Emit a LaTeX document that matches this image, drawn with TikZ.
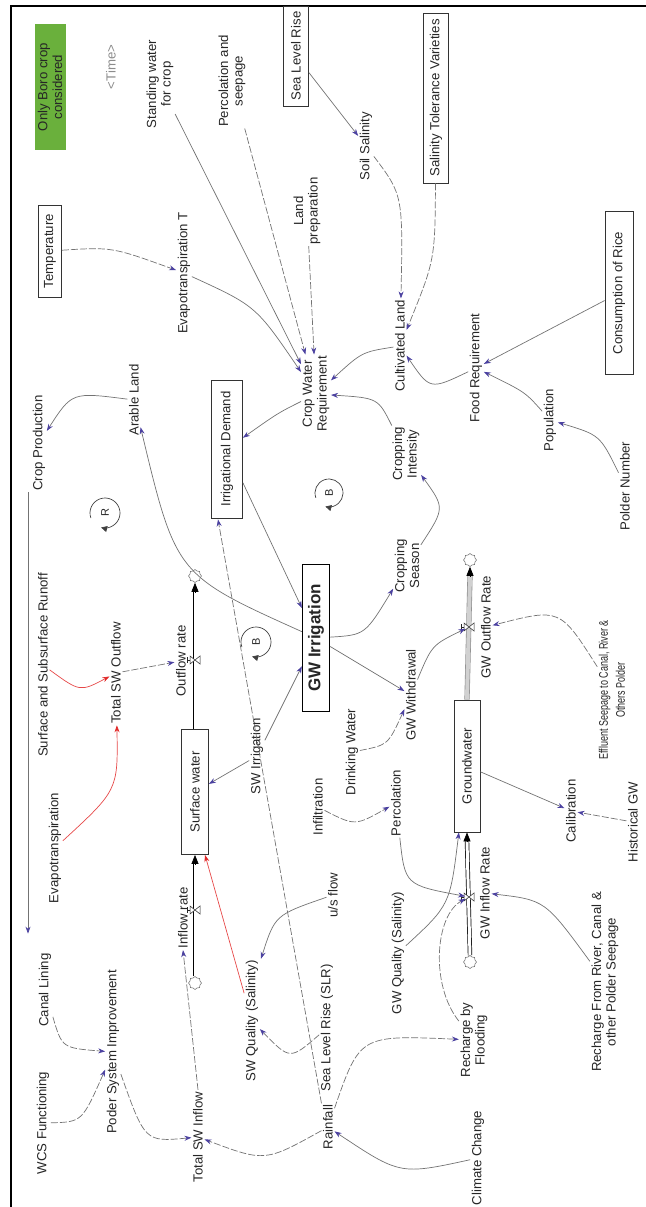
\documentclass[tikz,border=0pt]{standalone}
\usepackage{fontspec}
\setmainfont{Liberation Sans}
\usetikzlibrary{arrows.meta,shapes.symbols,calc}
\definecolor{ahead}{RGB}{75,65,160}
\definecolor{vgreen}{RGB}{106,176,60}
\definecolor{vred}{RGB}{225,40,40}
\begin{document}
\begin{tikzpicture}[x=1pt,y=-1pt,
 lab/.style={rotate=90, font=\fontsize{13.2}{14.6}\selectfont, align=center, inner sep=1.5pt, text=black!85},
 vbox/.style={lab, draw=black!80, line width=0.8pt, inner sep=2pt},
 lvl/.style={lab, draw=black!80, line width=0.8pt, fill=white},
 conn/.style={draw=black!55, line width=0.7pt, -{Stealth[length=7pt,width=5pt,color=ahead]}},
 dsh/.style={dash pattern=on 7pt off 2pt},
 redc/.style={draw=vred!85, line width=0.7pt, -{Stealth[length=7pt,width=5pt,color=vred]}},
 pipe/.style={draw=black, line width=0.7pt, double=white, double distance=3pt},
 gpipe/.style={draw=black!45, line width=0.6pt, double=black!18, double distance=4pt},
 ptip/.style={-{Triangle[length=9pt,width=7pt]}, line width=0.7pt, black},
 cloudn/.style={cloud, cloud puffs=8, aspect=1, draw=black!60, line width=0.5pt, minimum width=13pt, minimum height=13pt, inner sep=0pt},
 loopc/.style={draw=black!75, line width=0.7pt, -{Triangle[length=6pt,width=6pt]}},
 valvepic/.pic={\draw[black!85,line width=0.5pt,fill=white] (-5,-4) -- (5,4) -- (5,-4) -- (-5,4) -- cycle;
   \draw[black!85,line width=0.5pt] (-5,0) -- (-8,0) (-8,-3) -- (-8,3);}
]
\useasboundingbox (0,0) rectangle (645,1207);
\draw[line width=1.5pt] (11,1215) -- (11,6) -- (650,6);

% ---------- nodes ----------
\node[lab, fill=vgreen, minimum width=125pt, minimum height=31pt] (note) at (50,87) {Only Boro crop\\considered};
\node[lab, text=black!45] (time) at (111,67) {<Time>};
\node[lab] (standing) at (160,84) {Standing water\\for crop};
\node[lab] (percs) at (232,81) {Percolation and\\seepage};
\node[vbox, minimum width=100pt, minimum height=25pt] (slrbox) at (296,56) {Sea Level Rise};
\node[lab] (soilsal) at (366,146) {Soil Salinity};
\node[vbox, minimum width=170pt, minimum height=25pt] (stv) at (436,98) {Salinity Tolerance Varieties};
\node[lab] (landprep) at (307,211) {Land\\preparation};
\node[vbox, minimum width=92pt, minimum height=23pt] (temp) at (50,251) {Temperature};
\node[lab] (evapT) at (184,273) {Evapotranspiration T};
\node[vbox, minimum width=163pt, minimum height=28pt] (consrice) at (619,293) {Consumption of Rice};
\node[lab] (cwr) at (316,394) {Crop Water\\Requirement};
\node[lab] (cultland) at (400,346) {Cultivated Land};
\node[lab] (foodreq) at (476,368) {Food Requirement};
\node[lab] (pop) at (550,420) {Population};
\node[lab] (polder) at (625,486) {Polder Number};
\node[lab] (cropprod) at (39,443) {Crop Production};
\node[lab] (arable) at (134,400) {Arable Land};
\node[vbox, minimum width=138pt, minimum height=31pt] (irrdem) at (227,449) {Irrigational Demand};
\node[lab] (cropint) at (406,454) {Cropping\\Intensity};
\node[lab] (cropseason) at (407,566) {Cropping\\Season};
\node[lab] (sasr) at (43,665) {Surface and Subsurface Runoff};
\node[lab] (totswout) at (116,673) {Total SW Outflow};
\node[lab] (outrate) at (181,661) {Outflow rate};
\node[lab, draw=black, line width=1.3pt, minimum width=147pt, minimum height=27pt, font=\bfseries\fontsize{17}{18}\selectfont] (gwirr) at (316,638) {GW Irrigation};
\node[lab] (gwwd) at (411,695) {GW Withdrawal};
\node[lab] (gwoutrate) at (486,627) {GW Outflow Rate};
\node[lab, xscale=0.72, font=\fontsize{12.5}{17}\selectfont] (effluent) at (612,690) {Effluent Seepage to Canal, River \&\\Others Polder};
\node[lab] (drink) at (352,752) {Drinking Water};
\node[lab] (swirr) at (257,756) {SW Irrigation};
\node[lvl, minimum width=125pt, minimum height=27pt] (sw) at (195,792) {Surface water};
\node[lvl, minimum width=132pt, minimum height=26pt] (gw) at (467,766) {Groundwater};
\node[lab] (infil) at (318,807) {Infiltration};
\node[lab] (perc) at (396,803) {Percolation};
\node[lab] (calib) at (571,811) {Calibration};
\node[lab] (hist) at (633,822) {Historical GW};
\node[lab] (evap) at (55,848) {Evapotranspiration};
\node[lab] (canal) at (45,990) {Canal Lining};
\node[lab] (psi) at (113,1052) {Poder System Improvement};
\node[lab] (wcs) at (43,1123) {WCS Functioning};
\node[lab] (totswin) at (198,1137) {Total SW Inflow};
\node[lab] (inrate) at (183,918) {Inflow rate};
\node[lab] (swq) at (252,1021) {SW Quality (Salinity)};
\node[lab] (usflow) at (333,895) {u/s flow};
\node[lab] (slr) at (327,1028) {Sea Level Rise (SLR)};
\node[lab] (rain) at (328,1127) {Rainfall};
\node[lab] (climate) at (478,1158) {Climate Change};
\node[lab] (rbf) at (474,1040) {Recharge by\\Flooding};
\node[lab] (gwq) at (398,953) {GW Quality (Salinity)};
\node[lab] (gwinrate) at (485,893) {GW Inflow Rate};
\node[lab] (rfr) at (605,982) {Recharge From River, Canal \&\\other Polder Seepage};

% clouds and valves
\node[cloudn] (swcloudout) at (195,576) {};
\node[cloudn] (swcloudin) at (195,983) {};
\node[cloudn] (gwcloudout) at (470,560) {};
\node[cloudn] (gwcloudin) at (470,962) {};
\coordinate (swoutv) at (195,660);
\coordinate (swinv) at (195,910);
\coordinate (gwoutv) at (469,627);
\coordinate (gwinv) at (469,897);

% ---------- flows ----------
\draw[pipe] (sw.east) -- ([yshift=-9pt]swcloudout.south);
\draw[ptip] ([yshift=-10pt]swcloudout.south) -- (swcloudout.south);
\draw[pipe] (swcloudin.north) -- ([yshift=-9pt]sw.west);
\draw[ptip] ([yshift=-10pt]sw.west) -- (sw.west);
\draw[gpipe] (gw.east) -- ([yshift=-9pt]gwcloudout.south);
\draw[ptip] ([yshift=-10pt]gwcloudout.south) -- (gwcloudout.south);
\draw[pipe] (gwcloudin.north) -- ([yshift=-9pt]gw.west);
\draw[ptip] ([yshift=-10pt]gw.west) -- (gw.west);
\pic at (swoutv) {valvepic};
\pic at (swinv) {valvepic};
\pic at (gwoutv) {valvepic};
\pic at (gwinv) {valvepic};

% ---------- loops ----------
\node[lab, font=\fontsize{11}{11}\selectfont] (loopR) at (105,513) {R};
\node[lab, font=\fontsize{11}{11}\selectfont] (loopB1) at (329,493) {B};
\node[lab, font=\fontsize{11}{11}\selectfont] (loopB2) at (256,642) {B};
\draw[loopc] ([shift={(200:15pt)}]loopR.center) arc[start angle=200, end angle=-105, radius=15pt];
\draw[loopc] ([shift={(200:14pt)}]loopB1.center) arc[start angle=200, end angle=-105, radius=14pt];
\draw[loopc] ([shift={(200:15pt)}]loopB2.center) arc[start angle=200, end angle=-105, radius=15pt];

% ---------- connectors ----------
\draw[conn,dsh] (temp) .. controls (112,247) .. (evapT);
\draw[conn] (evapT) .. controls (256,306) .. (cwr);
\draw[conn] (standing) -- (cwr);
\draw[conn,dsh] (percs) -- (cwr);
\draw[conn,dsh] (landprep) -- (cwr);
\draw[conn] (slrbox) -- (soilsal);
\draw[conn,dsh] (soilsal) .. controls (403,195) .. (cultland);
\draw[conn,dsh] (stv) .. controls (435,260) .. (cultland);
\draw[conn] (cultland) .. controls (362,352) .. (cwr);
\draw[conn] (foodreq) .. controls (430,390) .. (cultland);
\draw[conn] (consrice) -- (foodreq);
\draw[conn] (pop) .. controls (525,392) .. (foodreq);
\draw[conn] (polder) .. controls (600,435) .. (pop);
\draw[conn] (cropseason) .. controls (445,508) .. (cropint);
\draw[conn] (cropint) .. controls (378,398) .. (cwr);
\draw[conn] (cwr) .. controls (278,413) .. (irrdem);
\draw[conn] (arable) .. controls (72,392) .. (cropprod);
\draw[conn] (gwirr) .. controls (176,575) .. (arable);
\draw[conn] (irrdem) -- (gwirr);
\draw[conn,dsh] (rain.north east) -- ([xshift=-9pt,yshift=-1pt]irrdem.west);
\draw[conn,dsh] (totswin.east) -- (inrate.west);
\draw[redc] (sasr) .. controls (80,692) .. (totswout);
\draw[redc] (evap) .. controls (118,790) .. (totswout);
\draw[conn,dsh] (totswout) -- (outrate);
\draw[conn] (swirr) -- (sw);
\draw[conn] (swirr) -- (gwirr);
\draw[conn] (gwirr) .. controls (365,635) .. (cropseason);
\draw[conn] (gwirr) -- (gwwd);
\draw[conn,dsh] (drink) .. controls (388,745) .. (gwwd);
\draw[conn,shorten >=4pt] (gwwd) .. controls (432,645) .. (gwoutv);
\draw[conn,dsh] (effluent) .. controls (560,608) .. (gwoutrate);
\draw[conn] (gw) -- (calib);
\draw[conn,dsh] (hist) -- (calib);
\draw[conn,dsh] (infil) .. controls (355,826) .. (perc);
\draw[conn,shorten >=4pt] (perc) .. controls (405,885) .. (gwinv);
\draw[conn] (gwq) .. controls (450,905) .. (gw);
\draw[conn,dsh,shorten >=4pt] (rbf) .. controls (430,985) and (435,915) .. (gwinv);
\draw[conn] (rfr) .. controls (545,900) .. (gwinrate);
\draw[conn,dsh] (rain) .. controls (360,1035) .. (rbf);
\draw[conn,dsh] (rain) .. controls (265,1162) .. (totswin);
\draw[conn] (climate) .. controls (400,1175) .. (rain);
\draw[conn,dsh] (canal) .. controls (62,1048) .. (psi);
\draw[conn,dsh] (wcs) .. controls (82,1122) .. (psi);
\draw[conn,dsh] (psi) .. controls (145,1142) .. (totswin);
\draw[conn] (usflow) .. controls (275,915) .. ([xshift=9pt]swq.east);
\draw[conn,dsh] (slr) .. controls (290,1060) .. (swq);
\draw[redc] (swq) -- ([xshift=10pt]sw.west);
\draw[conn] ([xshift=-11pt]cropprod.west) -- ([xshift=-17pt,yshift=18pt]canal.east);
\end{tikzpicture}
\end{document}
